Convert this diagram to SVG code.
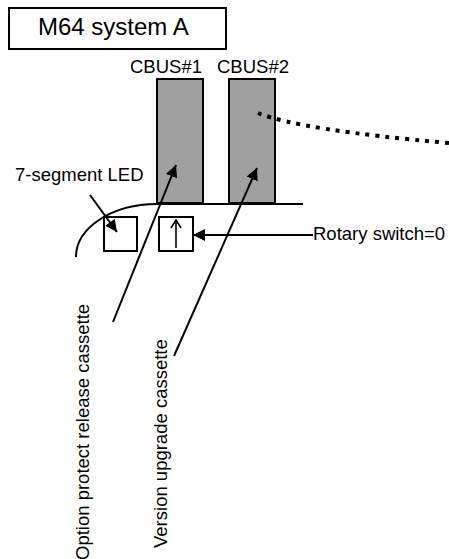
<svg xmlns="http://www.w3.org/2000/svg" width="449" height="559" viewBox="0 0 449 559">
<style>
text{font-family:"Liberation Sans",Arial,sans-serif;fill:#000}
.lbl{font-size:18.5px}
.box{fill:#fff;stroke:#000;stroke-width:2}
.cbus{fill:#a0a0a0;stroke:#000;stroke-width:2}
.ln{fill:none;stroke:#000;stroke-width:2}
</style>
<defs>
<marker id="ah" markerUnits="userSpaceOnUse" markerWidth="13" markerHeight="13" refX="12" refY="6" orient="auto">
<path d="M0,0 L12,6 L0,12 z" fill="#000"/>
</marker>
</defs>
<rect width="449" height="559" fill="#fff"/>
<g id="title">
<rect class="box" x="9" y="8" width="217" height="41"/>
<text x="38" y="35" style="font-size:24px">M64 system A</text>
</g>
<g id="base">
<path class="ln" d="M303 204 L157 204 A81 53 0 0 0 76 257"/>
</g>
<g id="cbus1">
<rect class="cbus" x="157" y="79" width="46" height="124"/>
<text class="lbl" x="130" y="73">CBUS#1</text>
</g>
<g id="cbus2">
<rect class="cbus" x="229" y="79" width="46" height="124"/>
<text class="lbl" x="217" y="73">CBUS#2</text>
</g>
<g id="led">
<rect class="box" x="104" y="217" width="33" height="34"/>
<text class="lbl" x="15" y="181">7-segment LED</text>
</g>
<g id="switch">
<rect class="box" x="159" y="217" width="34" height="34"/>
<path d="M176 248 V221 M171 228 L176 220 L181 228" fill="none" stroke="#000" stroke-width="1.6"/>
<text class="lbl" x="313" y="240">Rotary switch=0</text>
</g>
<g id="option">
<text class="lbl" transform="translate(89,560) rotate(-90)">Option protect release cassette</text>
</g>
<g id="version">
<text class="lbl" transform="translate(166.5,548) rotate(-90)">Version upgrade cassette</text>
</g>
<g id="connectors">
<line class="ln" x1="113" y1="322" x2="176" y2="165" marker-end="url(#ah)"/>
<line class="ln" x1="174" y1="356" x2="257" y2="168" marker-end="url(#ah)"/>
<line class="ln" x1="90" y1="195" x2="117" y2="232" marker-end="url(#ah)"/>
<line class="ln" x1="313" y1="235" x2="193" y2="235" marker-end="url(#ah)"/>
<path d="M258 113 Q300 130 449 143" fill="none" stroke="#000" stroke-width="4" stroke-dasharray="4 6"/>
</g>
</svg>
